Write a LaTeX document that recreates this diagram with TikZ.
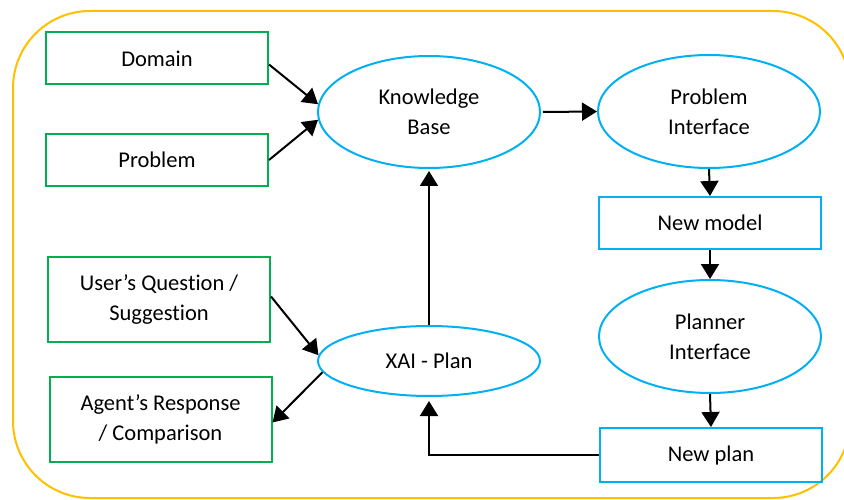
\documentclass[tikz,border=0pt]{standalone}
\usepackage{fontspec}
\setmainfont{Carlito}[Ligatures=NoCommon]
\usetikzlibrary{arrows.meta,shapes.geometric,calc}
\definecolor{gborder}{HTML}{00B050}
\definecolor{bborder}{HTML}{00B0F0}
\definecolor{ybord}{HTML}{FFC000}
\begin{document}
\begin{tikzpicture}[x=1pt,y=-1pt,
  every node/.style={font=\fontsize{22.5}{30}\selectfont, align=center, inner sep=0pt},
  gbox/.style={draw=gborder, line width=2pt, rectangle, minimum width=222pt},
  bbox/.style={draw=bborder, line width=2pt, rectangle, minimum width=222pt},
  bell/.style={draw=bborder, line width=2pt, ellipse, minimum width=222pt},
  arr/.style={line width=2pt, -{Triangle[length=15pt,width=18pt]}}]
\useasboundingbox (0,0) rectangle (844,500);
\begin{scope}
\clip (0,0) rectangle (844,500);
\draw[ybord, line width=2pt, rounded corners=77pt] (13,11) rectangle (850,498);
\end{scope}
% green boxes
\node[gbox, minimum height=52pt] (dom) at (157,58.5) {Domain};
\node[gbox, minimum height=52pt] (prob) at (157,160) {Problem};
\node[gbox, minimum height=85pt] (user) at (159,299.5) {User’s Question /\\Suggestion};
\node[gbox, minimum height=85pt] (agent) at (160.5,419.5) {Agent’s Response\\/ Comparison};
% ellipses
\node[bell, minimum height=112pt] (kb) at (429,112) {Knowledge\\Base};
\node[bell, minimum height=70pt] (xai) at (429,361) {XAI - Plan};
\node[bell, minimum height=113pt] (pi) at (709,111.5) {Problem\\Interface};
\node[bell, minimum height=113pt] (pl) at (710,336.5) {Planner\\Interface};
% blue boxes
\node[bbox, minimum height=52pt] (nm) at (710,223) {New model};
\node[bbox, minimum height=54pt] (np) at (711,455) {New plan};
% connectors
\draw[arr] ($(dom.east)+(0,6)$) -- (kb.176);
\draw[arr] (prob.east) -- (kb.184);
\draw[arr] ($(user.east)+(0,-3)$) -- (xai.177);
\draw[arr] (xai.186) -- ($(agent.east)+(0,3)$);
\draw[arr, shorten <=2pt] (kb.east) -- (pi.west);
\draw[arr] (pi.south) -- (nm.north);
\draw[arr] (nm.south) -- (pl.north);
\draw[arr] (pl.south) -- (np.north);
\draw[arr, shorten >=2pt] (xai.north) -- (kb.south);
\draw[arr, shorten >=4pt] (np.west) -| (xai.south);
\end{tikzpicture}
\end{document}
